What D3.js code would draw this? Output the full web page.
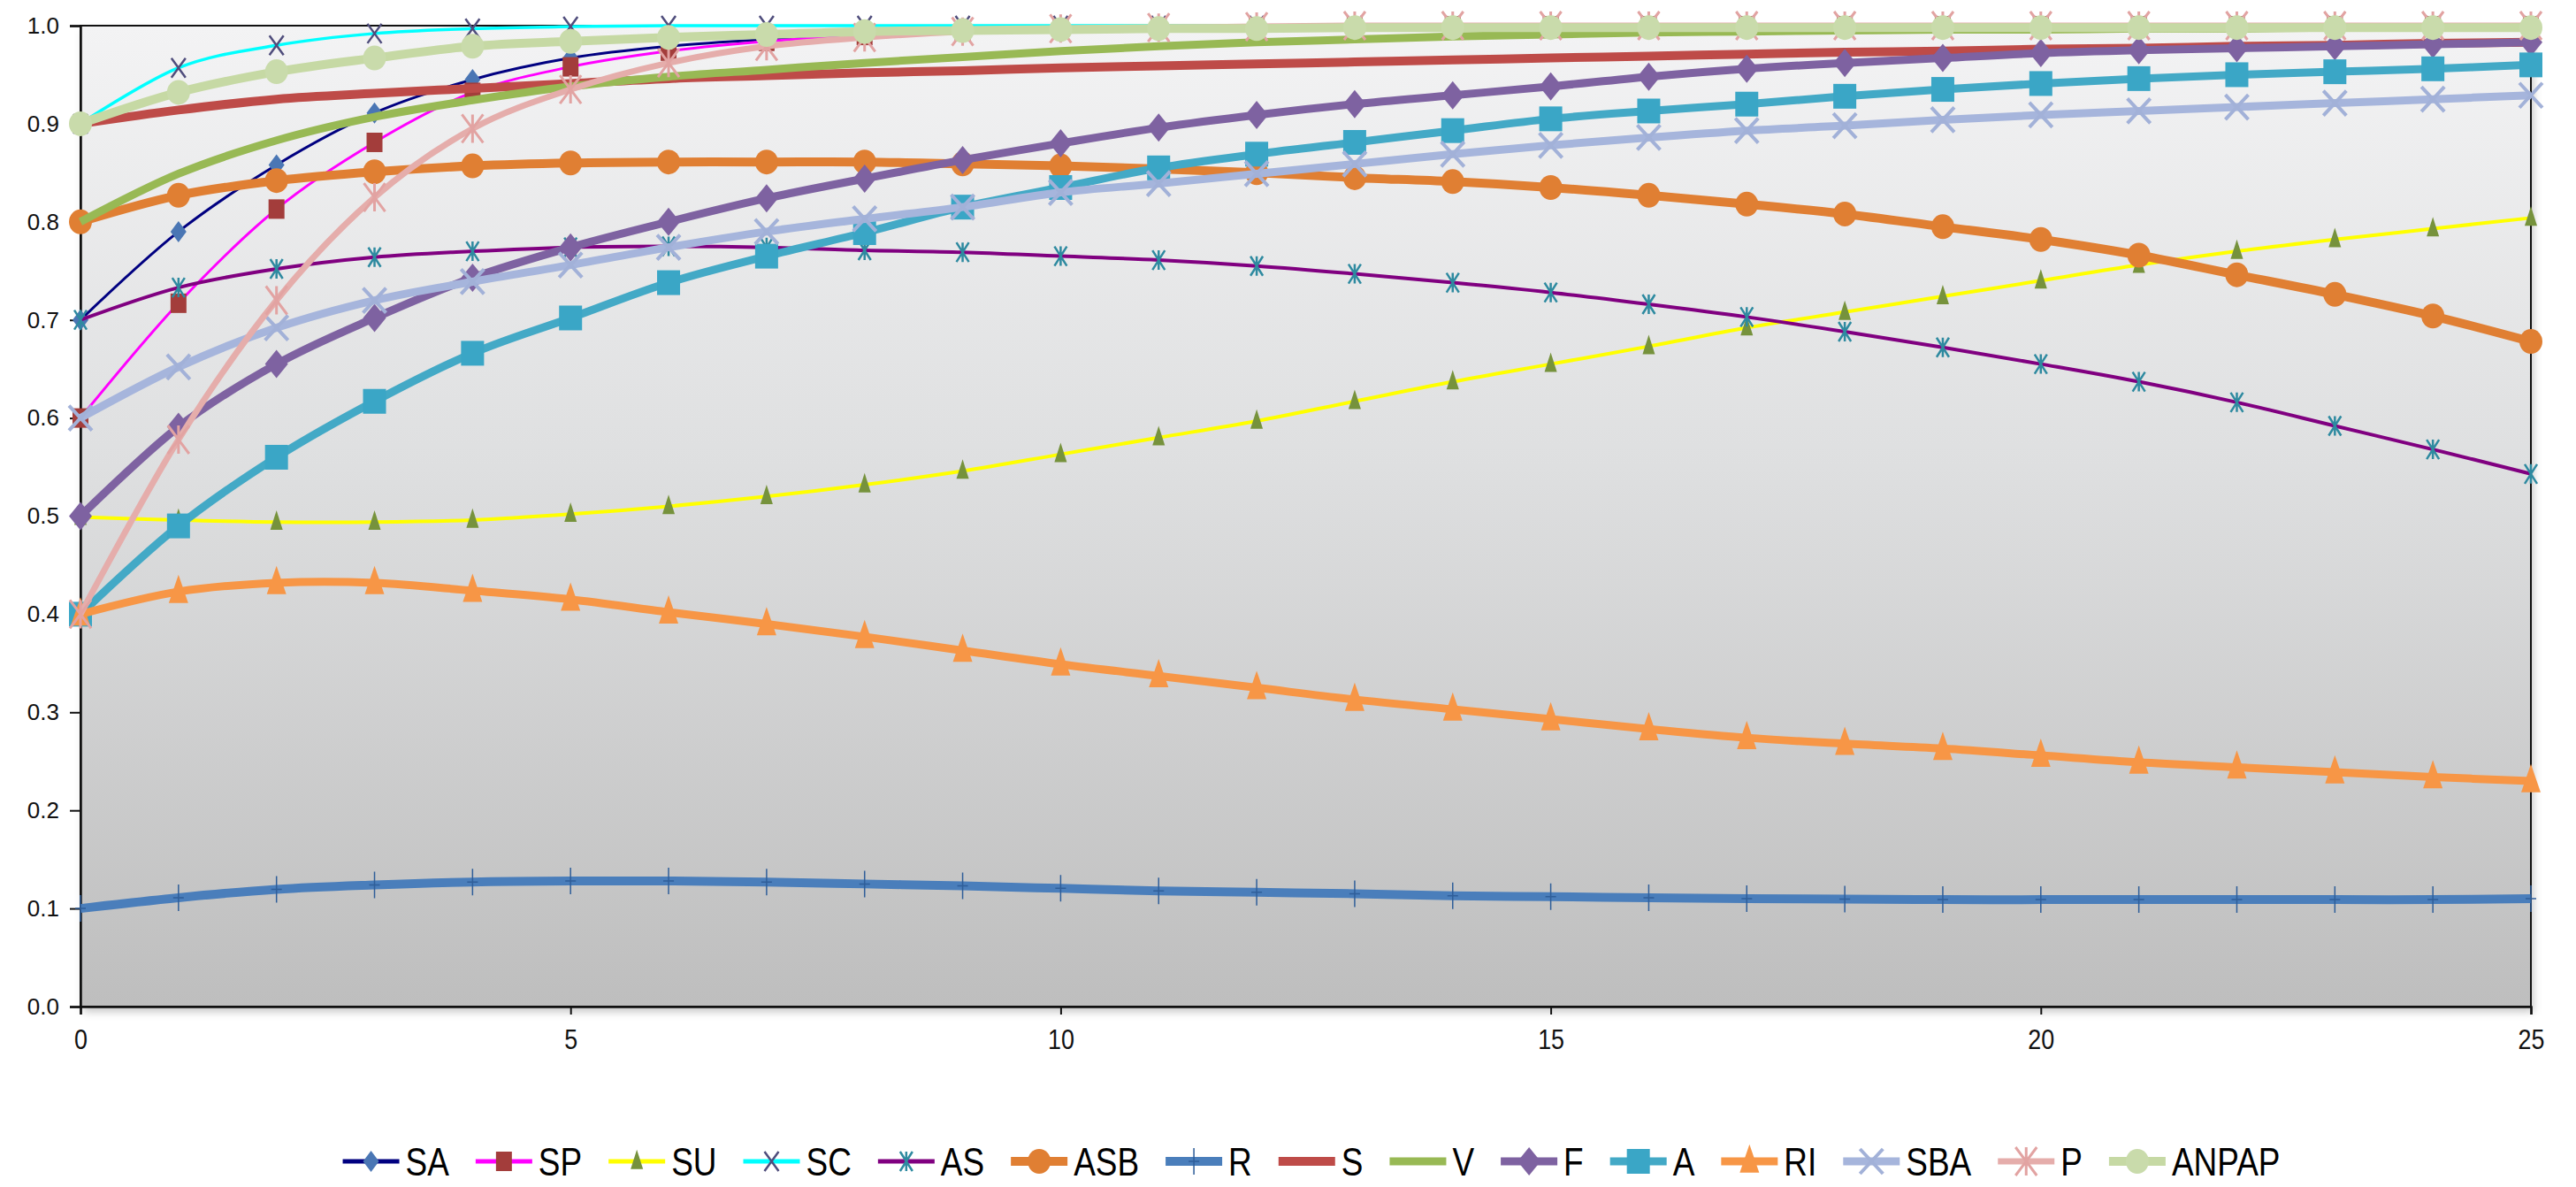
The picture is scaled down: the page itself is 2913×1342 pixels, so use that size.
<!DOCTYPE html>
<html>
<head>
<meta charset="utf-8">
<script src="https://cdn.jsdelivr.net/npm/d3@7"></script>
<style>
  body { margin: 0; background: #fff; }
  svg { display: block; }
</style>
</head>
<body>
<div id="chart"></div>
<script>
// x categories and tick labels
const steps = [0,1,2,3,4,5,6,7,8,9,10,11,12,13,14,15,16,17,18,19,20,21,22,23,24,25];
const xTicks = [0, 5, 10, 15, 20, 25];
const yTicks = [0, 0.1, 0.2, 0.3, 0.4, 0.5, 0.6, 0.7, 0.8, 0.9, 1.0];

// series values
const SA    = [0.700,0.790,0.858,0.911,0.945,0.967,0.979,0.986,0.991,0.994,0.996,0.997,0.998,0.999,0.999,1.000,1.000,1.000,1.000,1.000,1.000,1.000,1.000,1.000,1.000,1.000];
const SP    = [0.600,0.717,0.813,0.881,0.932,0.958,0.974,0.984,0.990,0.994,0.996,0.998,0.999,0.999,1.000,1.000,1.000,1.000,1.000,1.000,1.000,1.000,1.000,1.000,1.000,1.000];
const SU    = [0.499,0.496,0.494,0.494,0.496,0.502,0.510,0.520,0.532,0.546,0.563,0.580,0.597,0.617,0.637,0.655,0.673,0.692,0.708,0.724,0.740,0.756,0.770,0.782,0.793,0.804];
const SC    = [0.900,0.957,0.980,0.992,0.997,0.999,1.000,1.000,1.000,1.000,1.000,1.000,1.000,1.000,1.000,1.000,1.000,1.000,1.000,1.000,1.000,1.000,1.000,1.000,1.000,1.000];
const AS    = [0.700,0.733,0.752,0.764,0.770,0.774,0.775,0.774,0.771,0.769,0.765,0.761,0.755,0.747,0.738,0.728,0.716,0.703,0.688,0.672,0.655,0.637,0.616,0.592,0.568,0.543];
const ASB   = [0.800,0.827,0.842,0.851,0.857,0.860,0.861,0.861,0.861,0.859,0.857,0.854,0.850,0.845,0.841,0.835,0.827,0.818,0.808,0.795,0.782,0.766,0.746,0.726,0.704,0.678];
const R     = [0.100,0.111,0.1195,0.124,0.127,0.128,0.128,0.127,0.125,0.123,0.1205,0.118,0.1165,0.115,0.113,0.112,0.111,0.110,0.1095,0.109,0.109,0.109,0.109,0.109,0.109,0.110];
const S     = [0.900,0.914,0.925,0.931,0.936,0.941,0.946,0.949,0.952,0.954,0.957,0.959,0.961,0.963,0.965,0.967,0.969,0.971,0.973,0.974,0.976,0.977,0.979,0.980,0.982,0.983];
const V     = [0.800,0.849,0.883,0.907,0.924,0.938,0.948,0.955,0.962,0.968,0.974,0.979,0.983,0.986,0.989,0.991,0.993,0.994,0.995,0.996,0.996,0.997,0.997,0.998,0.998,0.998];
const F     = [0.500,0.591,0.655,0.702,0.743,0.774,0.800,0.824,0.844,0.863,0.880,0.896,0.909,0.920,0.929,0.938,0.948,0.956,0.962,0.967,0.972,0.975,0.977,0.979,0.981,0.983];
const A     = [0.400,0.490,0.560,0.617,0.666,0.702,0.738,0.765,0.789,0.815,0.835,0.855,0.869,0.881,0.893,0.905,0.913,0.920,0.928,0.935,0.941,0.946,0.950,0.953,0.956,0.960];
const RI    = [0.400,0.423,0.432,0.432,0.424,0.415,0.402,0.390,0.377,0.363,0.349,0.337,0.325,0.313,0.303,0.293,0.283,0.274,0.268,0.263,0.256,0.249,0.244,0.239,0.234,0.230];
const SBA   = [0.600,0.652,0.692,0.720,0.739,0.756,0.774,0.790,0.803,0.815,0.830,0.839,0.849,0.859,0.869,0.878,0.886,0.893,0.898,0.904,0.909,0.913,0.917,0.921,0.925,0.929];
const P     = [0.400,0.578,0.720,0.825,0.895,0.935,0.962,0.979,0.988,0.994,0.997,0.998,0.999,1.000,1.000,1.000,1.000,1.000,1.000,1.000,1.000,1.000,1.000,1.000,1.000,1.000];
const ANPAP = [0.900,0.932,0.953,0.967,0.979,0.984,0.988,0.991,0.994,0.995,0.996,0.997,0.997,0.998,0.998,0.998,0.998,0.998,0.998,0.998,0.998,0.998,0.998,0.998,0.998,0.998];

const seriesNames = ["SA","SP","SU","SC","AS","ASB","R","S","V","F","A","RI","SBA","P","ANPAP"];
const seriesValues = [SA, SP, SU, SC, AS, ASB, R, S, V, F, A, RI, SBA, P, ANPAP];

// line + marker look for each series
const styles = {
  SA:    { line: "#000080", lw: 3,  marker: "diamond",  w: 9,  h: 12, fill: "#4a76b4" },
  SP:    { line: "#ff00ff", lw: 3,  marker: "square",   w: 9,  h: 11, fill: "#a33d3b" },
  SU:    { line: "#ffff00", lw: 4,  marker: "triangle", w: 7,  h: 22, fill: "#76923c" },
  SC:    { line: "#00ffff", lw: 3.5,marker: "x",        w: 8,  h: 11, stroke: "#4f4d7c", sw: 2.5 },
  AS:    { line: "#800080", lw: 4,  marker: "star",     w: 7,  h: 11, stroke: "#2e8aa0", sw: 2.5 },
  ASB:   { line: "#e07f33", lw: 10, marker: "circle",   w: 13, h: 14, fill: "#e07f33" },
  R:     { line: "#4a7ebb", lw: 10, marker: "plus",     w: 0,  h: 15, stroke: "#2f5e99", sw: 1.5 },
  S:     { line: "#be4b48", lw: 10, marker: null },
  V:     { line: "#98b954", lw: 9,  marker: null },
  F:     { line: "#7e62a1", lw: 9,  marker: "diamond",  w: 13, h: 16, fill: "#7e62a1" },
  A:     { line: "#43a9c6", lw: 9,  marker: "square",   w: 13, h: 14, fill: "#3aa6c6" },
  RI:    { line: "#f79646", lw: 9,  marker: "triangle", w: 11, h: 32, fill: "#f79646" },
  SBA:   { line: "#a6b5dc", lw: 9,  marker: "x",        w: 13, h: 14, stroke: "#a2b1d8", sw: 4 },
  P:     { line: "#e5adab", lw: 7,  marker: "star",     w: 12, h: 16, stroke: "#e2a3a2", sw: 3 },
  ANPAP: { line: "#c6d9a4", lw: 10, marker: "circle",   w: 13, h: 14, fill: "#c9dbab" }
};

const W = 2913, H = 1342;
const plot = { left: 91, right: 2862, top: 29, bottom: 1138 };
const narrow = 0.84; // the labels use a condensed face

const svg = d3.select("#chart")
  .append("svg")
  .attr("width", W)
  .attr("height", H);

const defs = svg.append("defs");

const grad = defs.append("linearGradient")
  .attr("id", "plotBg")
  .attr("x1", 0).attr("y1", 0).attr("x2", 0).attr("y2", 1);
grad.append("stop").attr("offset", "0%").attr("stop-color", "#f3f3f4");
grad.append("stop").attr("offset", "45%").attr("stop-color", "#dedfe0");
grad.append("stop").attr("offset", "100%").attr("stop-color", "#bebebe");

defs.append("filter")
  .attr("id", "shadow")
  .attr("x", "-5%").attr("y", "-5%").attr("width", "110%").attr("height", "110%")
  .append("feGaussianBlur")
  .attr("stdDeviation", 5);

const xScale = d3.scaleLinear().domain([0, 25]).range([plot.left, plot.right]);
const yScale = d3.scaleLinear().domain([0, 1]).range([plot.bottom, plot.top]);

// plot area with soft shadow
svg.append("rect")
  .attr("x", plot.left + 3)
  .attr("y", plot.top + 6)
  .attr("width", plot.right - plot.left)
  .attr("height", plot.bottom - plot.top)
  .attr("fill", "rgba(0,0,0,0.22)")
  .attr("filter", "url(#shadow)");

svg.append("rect")
  .attr("x", plot.left)
  .attr("y", plot.top)
  .attr("width", plot.right - plot.left)
  .attr("height", plot.bottom - plot.top)
  .attr("fill", "url(#plotBg)")
  .attr("stroke", "#111")
  .attr("stroke-width", 2);

// axes
const yAxis = svg.append("g")
  .attr("transform", `translate(${plot.left},0)`)
  .call(d3.axisLeft(yScale)
    .tickValues(yTicks)
    .tickFormat(d3.format(".1f"))
    .tickSize(12)
    .tickPadding(12));

const xAxis = svg.append("g")
  .attr("transform", `translate(0,${plot.bottom})`)
  .call(d3.axisBottom(xScale)
    .tickValues(xTicks)
    .tickFormat(d3.format("d"))
    .tickSize(9)
    .tickPadding(16));

[yAxis, xAxis].forEach(ax => {
  ax.select(".domain").attr("stroke", "#111").attr("stroke-width", 2.5);
  ax.selectAll(".tick line").attr("stroke", "#111").attr("stroke-width", 2);
  ax.selectAll(".tick text").attr("fill", "#111");
});
yAxis.selectAll(".tick text")
  .attr("font-family", "'Liberation Sans', Arial, sans-serif")
  .attr("font-size", 26);
xAxis.selectAll(".tick text")
  .attr("font-family", "'Liberation Sans', Arial, sans-serif")
  .attr("font-size", 32)
  .attr("transform", `scale(${narrow},1)`);

// marker shapes centred on (0,0)
function markerPath(st) {
  const w = st.w, h = st.h;
  switch (st.marker) {
    case "diamond":  return `M0,${-h}L${w},0L0,${h}L${-w},0Z`;
    case "square":   return `M${-w},${-h}H${w}V${h}H${-w}Z`;
    case "triangle": return `M0,${-h * 0.6}L${w},${h * 0.4}L${-w},${h * 0.4}Z`;
    case "circle":   return `M${-w},0A${w},${h} 0 1,0 ${w},0A${w},${h} 0 1,0 ${-w},0Z`;
    case "x":        return `M${-w},${-h}L${w},${h}M${-w},${h}L${w},${-h}`;
    case "star":     return `M${-w},${-h}L${w},${h}M${-w},${h}L${w},${-h}M0,${-h}V${h}`;
    case "plus":     return `M0,${-h}V${h}M${-h * 0.4},0H${h * 0.4}`;
  }
  return null;
}

function styleMarker(sel, st) {
  if (st.fill) {
    sel.attr("fill", st.fill).attr("stroke", "none");
  } else {
    sel.attr("fill", "none")
      .attr("stroke", st.stroke)
      .attr("stroke-width", st.sw);
  }
}

const line = d3.line()
  .x((d, i) => xScale(steps[i]))
  .y(d => yScale(d))
  .curve(d3.curveCardinal.tension(0));

const seriesLayer = svg.append("g");

seriesNames.forEach((name, k) => {
  const st = styles[name];
  const vals = seriesValues[k];
  const g = seriesLayer.append("g").attr("class", "series-" + name);

  g.append("path")
    .datum(vals)
    .attr("d", line)
    .attr("fill", "none")
    .attr("stroke", st.line)
    .attr("stroke-width", st.lw)
    .attr("stroke-linejoin", "round");

  if (st.marker) {
    g.selectAll("path.marker")
      .data(vals)
      .enter()
      .append("path")
      .attr("class", "marker")
      .attr("transform", (d, i) => `translate(${xScale(steps[i])},${yScale(d)})`)
      .attr("d", markerPath(st))
      .call(styleMarker, st);
  }
});

// legend
const legendY = 1313;
const legend = svg.append("g");
let cursor = 0;
seriesNames.forEach(name => {
  const st = styles[name];
  const item = legend.append("g").attr("transform", `translate(${cursor},${legendY})`);
  item.append("line")
    .attr("x1", 0).attr("x2", 64)
    .attr("y1", 0).attr("y2", 0)
    .attr("stroke", st.line)
    .attr("stroke-width", Math.max(st.lw, 5));
  if (st.marker) {
    item.append("path")
      .attr("transform", "translate(32,0)")
      .attr("d", markerPath(st))
      .call(styleMarker, st);
  }
  const label = item.append("g")
    .attr("transform", `translate(71,0) scale(${narrow},1)`)
    .append("text")
    .attr("dy", "0.36em")
    .attr("font-family", "'Liberation Sans', Arial, sans-serif")
    .attr("font-size", 44)
    .attr("fill", "#000")
    .text(name);
  cursor += 71 + label.node().getComputedTextLength() * narrow + 30;
});
const legendWidth = cursor - 30;
legend.attr("transform", `translate(${1483 - legendWidth / 2},0)`);
</script>
</body>
</html>
